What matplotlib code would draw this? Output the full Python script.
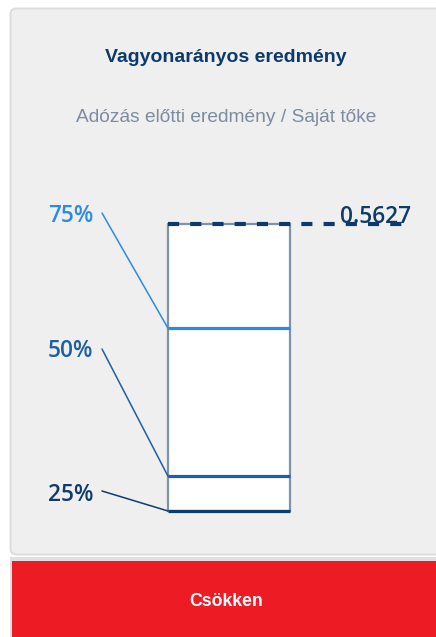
import matplotlib
matplotlib.use("Agg")
import matplotlib.pyplot as plt
from matplotlib.patches import FancyBboxPatch, Rectangle

# ---- data ----
title = "Vagyonarányos eredmény"
subtitle = "Adózás előtti eredmény / Saját tőke"
quantile_labels = ["75%", "50%", "25%"]
quantile_values = [0.362, 0.077, 0.010]
current_value = 0.5627
verdict = "Csökken"

# ---- style ----
W, H = 436, 637
plt.rcParams['lines.scale_dashes'] = False
fig = plt.figure(figsize=(W / 100, H / 100), dpi=100)
fig.patch.set_facecolor("white")

bg = fig.add_axes([0, 0, 1, 1])
bg.set_xlim(0, W)
bg.set_ylim(H, 0)
bg.axis("off")

# card
bg.add_patch(FancyBboxPatch((10.5, 8.5), W + 20, 546, boxstyle="round,pad=0,rounding_size=6",
                            facecolor="#efefef", edgecolor="#dcdcdc", lw=1.4))
# button
bg.add_patch(Rectangle((10, 557), W, 90, facecolor="#e0e0e0", edgecolor="none"))
bg.add_patch(Rectangle((12, 561), W, 90, facecolor="#ed1c24", edgecolor="none"))

navy = "#0d3a6a"
cx = 226 / W
fig.text(cx, 1 - 58 / H, title, ha="center", va="center", fontsize=14,
         fontweight="bold", color=navy, family="Liberation Sans")
fig.text(cx, 1 - 117 / H, subtitle, ha="center", va="center", fontsize=13.8,
         color="#7b8ca2", family="Liberation Sans")
fig.text(cx, 1 - 602 / H, verdict, ha="center", va="center", fontsize=12.7,
         fontweight="bold", color="white", family="Liberation Sans")

# chart axes = the box
bl, br, bt, bb = 168, 290, 224, 511
ax = fig.add_axes([bl / W, 1 - bb / H, (br - bl) / W, (bb - bt) / H])
ax.set_xlim(0, 1)
ax.set_ylim(min(quantile_values), current_value)
ax.axis("off")

q25 = min(quantile_values)
ax.add_patch(Rectangle((0, q25), 1, current_value - q25, facecolor="white",
                       edgecolor="#7d93aa", lw=1.6, clip_on=False, zorder=1))

colors = ["#2b8ae2", "#1d5fa3", "#0f3b6b"]
label_y = [216, 351, 495]
line_start_y = [213, 349, 491]
for lab, v, c, ly, sy in zip(quantile_labels, quantile_values, colors, label_y, line_start_y):
    ax.plot([0, 1], [v, v], color=c, lw=2.3, clip_on=False, zorder=3, solid_capstyle="butt")
    ax.annotate("", xy=(0, v), xycoords="data", xytext=(102, H - sy), textcoords="figure pixels",
                arrowprops=dict(arrowstyle="-", color=c, lw=1.1, shrinkA=0, shrinkB=0),
                annotation_clip=False)
    fig.text(93 / W, 1 - ly / H, lab, ha="right", va="center", fontsize=16.3,
             color=c, family="Open Sans", fontweight="semibold")

x_end = (411 - bl) / (br - bl)
ax.plot([0, x_end], [current_value, current_value], color=navy, lw=3,
        dashes=(8, 8), clip_on=False, zorder=4, solid_capstyle="butt", dash_capstyle="butt")
ax.annotate(f"{current_value:.4f}", xy=(x_end, current_value), xycoords="data",
            xytext=(0, 0.5), textcoords="offset points", ha="right", va="baseline",
            fontsize=16.3, color=navy, family="Open Sans", fontweight="semibold", zorder=3,
            annotation_clip=False)

fig.savefig("out.png", dpi=100)
